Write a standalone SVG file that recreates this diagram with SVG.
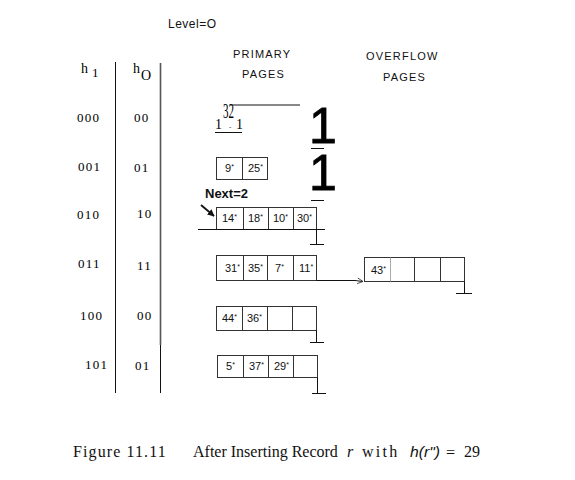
<svg xmlns="http://www.w3.org/2000/svg" width="575" height="480" viewBox="0 0 575 480">
<style>
.sans{font-family:"Liberation Sans",Arial,sans-serif;fill:#111}
.serif{font-family:"Liberation Serif","Times New Roman",serif;fill:#000}
.hdr{font-size:11px;letter-spacing:1.2px}
.lbl{font-size:13px;letter-spacing:1.2px}
.cell{font-size:11px}
.star{font-size:7px}
.box{fill:none;stroke:#333;stroke-width:1}
.div{stroke:#333;stroke-width:1}
.ln{stroke:#111;stroke-width:1;fill:none}
.big{font-family:"Liberation Sans",Arial,sans-serif;font-size:50px;fill:#000;stroke:#000;stroke-width:0.8}
.cap{font-family:"Liberation Serif","Times New Roman",serif;font-size:16px;fill:#111}
</style>
<defs>
<marker id="open" viewBox="0 0 10 10" refX="9" refY="5" markerWidth="7" markerHeight="7" orient="auto" markerUnits="userSpaceOnUse">
<path d="M1,1 L9,5 L1,9" fill="none" stroke="#333" stroke-width="1.2"/>
</marker>
<marker id="solid" viewBox="0 0 10 10" refX="9" refY="5" markerWidth="7" markerHeight="7" orient="auto" markerUnits="userSpaceOnUse">
<path d="M0,0 L10,5 L0,10 Z" fill="#111"/>
</marker>
</defs>
<rect width="575" height="480" fill="#fff"/>

<g id="headers">
<text class="sans" x="168" y="28" font-size="12" letter-spacing="0.5">Level=O</text>
<text class="sans hdr" x="233" y="58">PRIMARY</text>
<text class="sans hdr" x="242" y="78">PAGES</text>
<text class="sans hdr" x="366" y="60">OVERFLOW</text>
<text class="sans hdr" x="383" y="81">PAGES</text>
</g>

<g id="hash-columns">
<text class="serif" x="81" y="73" font-size="14">h</text>
<text class="serif" x="92" y="77" font-size="13">1</text>
<text class="serif" x="133" y="73" font-size="14">h</text>
<text class="serif" x="141" y="80" font-size="14">O</text>
<line class="ln" x1="115.5" y1="62" x2="115.5" y2="393"/>
<line x1="160.5" y1="63" x2="160.5" y2="345" stroke="#555" stroke-width="1.6"/>
<line class="ln" x1="160.5" y1="345" x2="160.5" y2="393"/>
<g class="serif lbl">
<text x="77" y="122">000</text>
<text x="78" y="171">001</text>
<text x="77" y="219">010</text>
<text x="78" y="268">011</text>
<text x="80" y="320">100</text>
<text x="85" y="369">101</text>
<text x="134" y="122">00</text>
<text x="134" y="172">01</text>
<text x="137" y="218">10</text>
<text x="137" y="270">11</text>
<text x="137" y="320">00</text>
<text x="135" y="370">01</text>
</g>
</g>

<g id="bucket-000">
<line class="ln" x1="230" y1="105" x2="300" y2="105"/>
<text class="serif" x="215" y="129" font-size="14">1</text>
<text class="serif" x="0" y="0" font-size="20" transform="translate(223,118) scale(0.55,1)">32</text>
<text class="serif" x="229" y="129" font-size="7">-</text>
<text class="serif" x="236" y="129" font-size="14">1</text>
<line class="ln" x1="215" y1="132.5" x2="242" y2="132.5"/>
<text class="big" x="309" y="143">1</text>
<line class="ln" x1="311" y1="148.5" x2="324" y2="148.5"/>
</g>

<g id="bucket-001">
<rect class="box" x="216.5" y="157.5" width="51" height="22"/>
<line class="div" x1="242.5" y1="157.5" x2="242.5" y2="179.5"/>
<g class="sans cell">
<text x="225" y="172">9<tspan class="star" dy="-3">*</tspan></text>
<text x="248" y="172">25<tspan class="star" dy="-3">*</tspan></text>
</g>
<text class="big" x="309" y="190">1</text>
<line class="ln" x1="311" y1="200.5" x2="324" y2="200.5"/>
</g>

<g id="next-pointer">
<text class="sans" x="205" y="198" font-size="13" font-weight="bold">Next=2</text>
</g>

<g id="bucket-010">
<rect class="box" x="216.5" y="207.5" width="100" height="22"/>
<line class="div" x1="243.5" y1="207.5" x2="243.5" y2="229.5"/>
<line class="div" x1="268.5" y1="207.5" x2="268.5" y2="229.5"/>
<line class="div" x1="293.5" y1="207.5" x2="293.5" y2="229.5"/>
<line class="ln" x1="198" y1="229.5" x2="325" y2="229.5"/>
<line class="ln" x1="316.5" y1="229.5" x2="316.5" y2="244"/>
<line class="ln" x1="310" y1="244.5" x2="324" y2="244.5"/>
<g class="sans cell">
<text x="222" y="222">14<tspan class="star" dy="-3">*</tspan></text>
<text x="248" y="222">18<tspan class="star" dy="-3">*</tspan></text>
<text x="273" y="222">10<tspan class="star" dy="-3">*</tspan></text>
<text x="297" y="222">30<tspan class="star" dy="-3">*</tspan></text>
</g>
</g>

<g id="bucket-011">
<rect class="box" x="216.5" y="255.5" width="100" height="25"/>
<line class="div" x1="243.5" y1="255.5" x2="243.5" y2="280.5"/>
<line class="div" x1="267.5" y1="255.5" x2="267.5" y2="280.5"/>
<line class="div" x1="293.5" y1="255.5" x2="293.5" y2="280.5"/>
<g class="sans cell">
<text x="225" y="272">31<tspan class="star" dy="-3">*</tspan></text>
<text x="248" y="272">35<tspan class="star" dy="-3">*</tspan></text>
<text x="275" y="272">7<tspan class="star" dy="-3">*</tspan></text>
<text x="299" y="272">11<tspan class="star" dy="-3">*</tspan></text>
</g>
</g>

<g id="overflow-011">
<rect class="box" x="364.5" y="257.5" width="100" height="24"/>
<line x1="390.5" y1="257.5" x2="390.5" y2="281.5" stroke="#aaa" stroke-width="1"/>
<line class="div" x1="414.5" y1="257.5" x2="414.5" y2="281.5"/>
<line class="div" x1="440.5" y1="257.5" x2="440.5" y2="281.5"/>
<text class="sans cell" x="371" y="274">43<tspan class="star" dy="-3">*</tspan></text>
<line class="ln" x1="464.5" y1="281.5" x2="464.5" y2="293"/>
<line class="ln" x1="456" y1="293.5" x2="472" y2="293.5"/>
</g>

<g id="bucket-100">
<rect class="box" x="216.5" y="306.5" width="100" height="24"/>
<line class="div" x1="242.5" y1="306.5" x2="242.5" y2="330.5"/>
<line class="div" x1="267.5" y1="306.5" x2="267.5" y2="330.5"/>
<line class="div" x1="292.5" y1="306.5" x2="292.5" y2="330.5"/>
<line class="ln" x1="316.5" y1="330.5" x2="316.5" y2="342"/>
<line class="ln" x1="310" y1="342.5" x2="324" y2="342.5"/>
<g class="sans cell">
<text x="222" y="322">44<tspan class="star" dy="-3">*</tspan></text>
<text x="247" y="322">36<tspan class="star" dy="-3">*</tspan></text>
</g>
</g>

<g id="bucket-101">
<rect class="box" x="217.5" y="355.5" width="100" height="22"/>
<line class="div" x1="243.5" y1="355.5" x2="243.5" y2="377.5"/>
<line class="div" x1="268.5" y1="355.5" x2="268.5" y2="377.5"/>
<line class="div" x1="293.5" y1="355.5" x2="293.5" y2="377.5"/>
<line class="ln" x1="317.5" y1="377.5" x2="317.5" y2="393"/>
<line class="ln" x1="312" y1="393.5" x2="326" y2="393.5"/>
<g class="sans cell">
<text x="226" y="370">5<tspan class="star" dy="-3">*</tspan></text>
<text x="249" y="370">37<tspan class="star" dy="-3">*</tspan></text>
<text x="274" y="370">29<tspan class="star" dy="-3">*</tspan></text>
</g>
</g>

<g id="connectors">
<line x1="201" y1="205" x2="214" y2="216" stroke="#111" stroke-width="1.8" marker-end="url(#solid)"/>
<polyline class="ln" points="316.5,280.5 355,280.5 363,281.5" marker-end="url(#open)"/>
</g>

<g id="caption">
<text class="cap" x="73" y="457" font-size="17" letter-spacing="1.1">Figure 11.11</text>
<text class="cap" x="193" y="457" font-size="16.2">After Inserting Record</text>
<text class="cap" x="347" y="457" font-size="17" font-style="italic">r</text>
<text class="cap" x="362" y="457" font-size="17" letter-spacing="2.3">with</text>
<text class="sans" x="410" y="457" font-size="15" font-style="italic" textLength="30" lengthAdjust="spacingAndGlyphs">h(r")</text>
<text class="cap" x="446" y="458" font-size="21">=</text>
<text class="cap" x="464" y="457" font-size="17">29</text>
</g>
</svg>
